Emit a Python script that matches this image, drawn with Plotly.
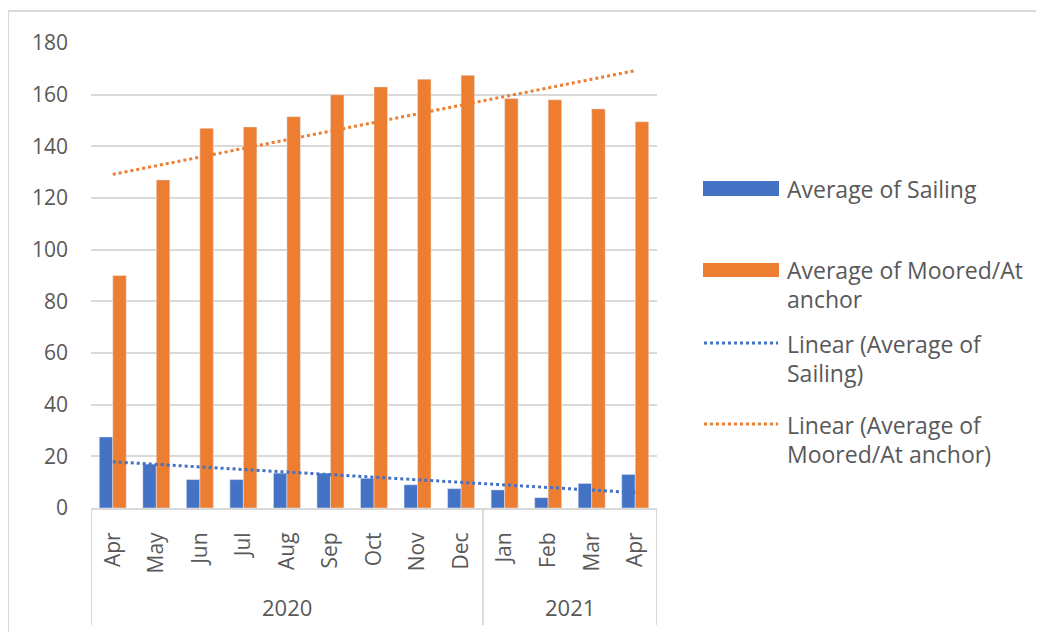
import numpy as np
import plotly.graph_objects as go

months = ["Apr", "May", "Jun", "Jul", "Aug", "Sep", "Oct", "Nov", "Dec",
          "Jan", "Feb", "Mar", "Apr"]
years = ["2020", "2021"]
months_per_year = [9, 4]
sailing = [27.5, 17, 11, 11, 13.5, 13.5, 11.5, 9, 7.5, 7, 4, 9.5, 13]
moored = [90, 127, 147, 147.5, 151.5, 160, 163, 166, 167.5, 158.5, 158, 154.5, 149.5]
y_ticks = [0, 20, 40, 60, 80, 100, 120, 140, 160, 180]

BLUE = "#4472C4"
ORANGE = "#ED7D31"
TEXT = "#595959"
GRID = "#D9D9D9"
FONT = "Open Sans"

# the page body adds 8px around the plot, so work in screen pixels and shift back
OFF = 8
W, H = 1044, 632
L, R, T, B = 91 - OFF, 387 + OFF, 43 - OFF, 124 + OFF
PW, PH = W - L - R, H - T - B


def px(x):
    return (x - OFF - L) / PW


def py(y):
    return (H - B - (y - OFF)) / PH


idx = list(range(len(months)))

# linear trend lines, like Excel's "Linear" trendline
trend_s = np.polyval(np.polyfit(idx, sailing, 1), idx)
trend_m = np.polyval(np.polyfit(idx, moored, 1), idx)

fig = go.Figure()
fig.add_trace(go.Bar(x=idx, y=sailing, name="Average of Sailing", marker_color=BLUE))
fig.add_trace(go.Bar(x=idx, y=moored, name="Average of Moored/At anchor", marker_color=ORANGE))
fig.add_trace(go.Scatter(x=idx, y=trend_s, mode="lines", name="Linear (Average of Sailing)",
                         line=dict(color=BLUE, width=3, dash="dot")))
fig.add_trace(go.Scatter(x=idx, y=trend_m, mode="lines", name="Linear (Average of Moored/At anchor)",
                         line=dict(color=ORANGE, width=3, dash="dot")))

shapes = [
    # chart border (top and left are the only edges inside the picture)
    dict(type="line", xref="paper", yref="paper", x0=px(8), x1=px(W + OFF), y0=py(11), y1=py(11),
         line=dict(color=GRID, width=2)),
    dict(type="line", xref="paper", yref="paper", x0=px(8), x1=px(8), y0=py(11), y1=py(H + OFF),
         line=dict(color=GRID, width=2)),
]

# year group dividers and labels under the month labels
annotations = []
start = 0
bounds = [-0.5]
for yr, n in zip(years, months_per_year):
    annotations.append(dict(text=yr, x=start + (n - 1) / 2, xref="x", y=py(607), yref="paper",
                            yanchor="middle", showarrow=False,
                            font=dict(family=FONT, size=22, color=TEXT)))
    start += n
    bounds.append(start - 0.5)
for b in bounds:
    shapes.append(dict(type="line", xref="x", yref="paper", x0=b, x1=b, y0=0, y1=py(625),
                       line=dict(color=GRID, width=2)))

# hand-made legend to get Excel's wide swatches
shapes += [
    dict(type="rect", xref="paper", yref="paper", x0=px(703), x1=px(779), y0=py(181), y1=py(196),
         fillcolor=BLUE, line_width=0),
    dict(type="rect", xref="paper", yref="paper", x0=px(703), x1=px(779), y0=py(263), y1=py(277),
         fillcolor=ORANGE, line_width=0),
    dict(type="line", xref="paper", yref="paper", x0=px(704), x1=px(778), y0=py(343), y1=py(343),
         line=dict(color=BLUE, width=3, dash="dot")),
    dict(type="line", xref="paper", yref="paper", x0=px(704), x1=px(778), y0=py(424), y1=py(424),
         line=dict(color=ORANGE, width=3, dash="dot")),
]
legend_lines = [
    ("Average of Sailing", 189),
    ("Average of Moored/At", 270),
    ("anchor", 299),
    ("Linear (Average of", 344),
    ("Sailing)", 373),
    ("Linear (Average of", 425),
    ("Moored/At anchor)", 454),
]
annotations += [
    dict(text=t, xref="paper", yref="paper", x=px(785), y=py(yy), xanchor="left", yanchor="middle",
         showarrow=False, font=dict(family=FONT, size=23, color=TEXT))
    for t, yy in legend_lines
]

fig.update_layout(
    width=W, height=H,
    margin=dict(l=L, r=R, t=T, b=B),
    paper_bgcolor="white", plot_bgcolor="white",
    barmode="group", bargap=0.38, bargroupgap=0,
    showlegend=False,
    font=dict(family=FONT, size=21, color=TEXT),
    shapes=shapes, annotations=annotations,
    xaxis=dict(range=[-0.5, len(months) - 0.5], tickvals=idx, ticktext=months, tickangle=-90,
               showgrid=False, zeroline=False, showline=True, linecolor=GRID, linewidth=2,
               ticks="", ticklabelstandoff=14,
               tickfont=dict(family=FONT, size=21, color=TEXT)),
    yaxis=dict(range=[0, 180], tickvals=y_ticks, showgrid=True, gridcolor=GRID, gridwidth=2,
               zeroline=False, showline=False, ticks="", ticklabelstandoff=22,
               tickfont=dict(family=FONT, size=21, color=TEXT)),
)

fig.write_html("out.html")
